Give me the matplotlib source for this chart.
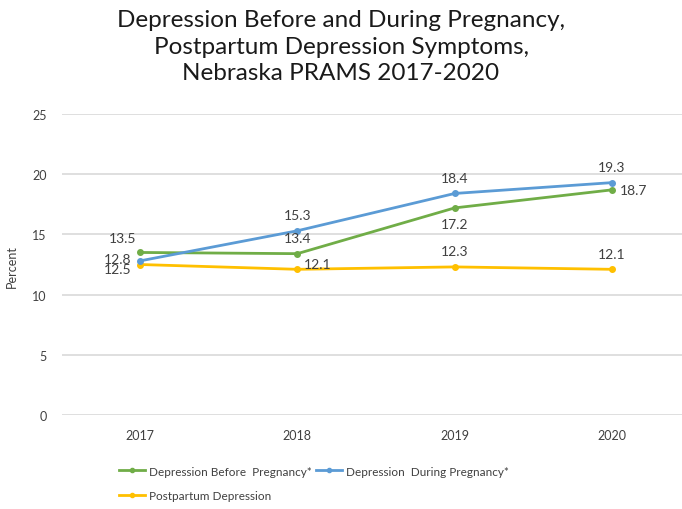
import matplotlib
matplotlib.use("Agg")
import matplotlib.pyplot as plt
from matplotlib.lines import Line2D

years = ["2017", "2018", "2019", "2020"]
before = [13.5, 13.4, 17.2, 18.7]
during = [12.8, 15.3, 18.4, 19.3]
postpartum = [12.5, 12.1, 12.3, 12.1]
series_names = ["Depression Before  Pregnancy*", "Depression  During Pregnancy*", "Postpartum Depression"]
title = "Depression Before and During Pregnancy,\nPostpartum Depression Symptoms,\nNebraska PRAMS 2017-2020"

plt.rcParams['font.family'] = ['Lato', 'DejaVu Sans']

green = "#70AD47"
blue = "#5B9BD5"
yellow = "#FFC000"
txt = "#404040"

fig = plt.figure(figsize=(6.82, 5.10), dpi=100)
W, H = 682, 510
ax = fig.add_axes([62 / W, 94 / H, (682 - 62) / W, (416 - 115) / H])
x = list(range(len(years)))

for vals, col in [(postpartum, yellow), (before, green), (during, blue)]:
    ax.plot(x, vals, color=col, lw=2.0, marker='o', ms=4, solid_joinstyle='round', zorder=3)

ax.set_xlim(-0.496, 3.445)
ax.set_ylim(0, 25)
ax.set_yticks([0, 5, 10, 15, 20, 25])
ax.set_xticks(x)
ax.set_xticklabels(years)
ax.grid(axis='y', color='#D9D9D9', lw=1.2)
ax.set_axisbelow(True)
for s in ax.spines.values():
    s.set_visible(False)
ax.tick_params(length=0, labelsize=9, colors=txt, pad=10)
ax.tick_params(axis='y', pad=11)
ax.set_ylabel("Percent", fontsize=9, color=txt)
ax.yaxis.set_label_coords(-44 / 620, 0.495)

def lab(i, v, pos):
    offs = {'above': (0, 7, 'center', 'bottom'), 'below': (0, -7, 'center', 'top'),
            'left': (-6, 0, 'right', 'center'), 'right': (6, 0, 'left', 'center'),
            'aboveleft': (-3, 6, 'right', 'bottom')}
    dx, dy, ha, va = offs[pos]
    ax.annotate(f"{v:.1f}", (x[i], v), xytext=(dx, dy), textcoords='offset points',
                ha=ha, va=va, fontsize=10, color=txt)

lab(0, before[0], 'aboveleft')
lab(1, before[1], 'above')
lab(2, before[2], 'below')
lab(3, before[3], 'right')
ax.annotate(f"{during[0]:.1f}", (x[0], during[0]), xytext=(-6, 1), textcoords='offset points',
            ha='right', va='center', fontsize=10, color=txt)
lab(1, during[1], 'above')
lab(2, during[2], 'above')
lab(3, during[3], 'above')
ax.annotate(f"{postpartum[0]:.1f}", (x[0], postpartum[0]), xytext=(-6, -3), textcoords='offset points',
            ha='right', va='center', fontsize=10, color=txt)
ax.annotate(f"{postpartum[1]:.1f}", (x[1], postpartum[1]), xytext=(5, 4), textcoords='offset points',
            ha='left', va='center', fontsize=10, color=txt)
lab(2, postpartum[2], 'above')
lab(3, postpartum[3], 'above')

fig.text(0.5, 1 - 47 / H, title, ha='center', va='center', fontsize=17.5, color='#1a1a1a', linespacing=1.3)

h = [Line2D([], [], color=c, lw=2.0, marker='o', ms=3) for c in (green, yellow, blue)]
labels = [series_names[0], series_names[2], series_names[1]]
fig.legend(h, labels, ncol=2, loc='upper left', bbox_to_anchor=(108 / W, 1 - 456 / H),
           frameon=False, fontsize=8.5, handlelength=2.2, handletextpad=0.4,
           columnspacing=0.3, labelspacing=1.15, labelcolor=txt)

fig.savefig("out.png", dpi=100)
